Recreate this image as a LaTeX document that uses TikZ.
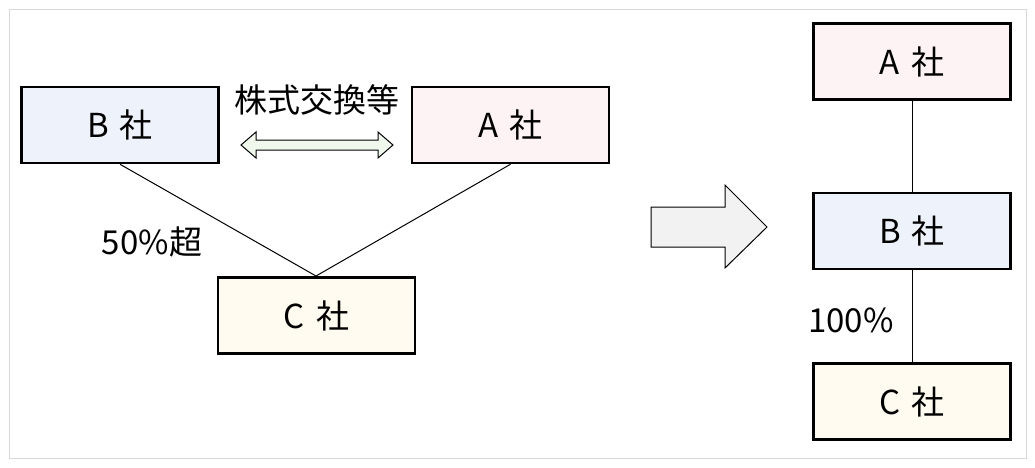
\documentclass[tikz,border=0pt]{standalone}
\usepackage{fontspec}
\setmainfont{Noto Sans CJK JP}
\begin{document}
\begin{tikzpicture}[x=1pt,y=-1pt,
 box/.style={draw,line width=2.5pt,minimum width=197pt,minimum height=76pt,font=\fontsize{33}{37}\selectfont},
 lbl/.style={font=\fontsize{33}{37}\selectfont}]
\useasboundingbox (0,0) rectangle (1035,467);
\draw[black!15,line width=1pt] (9,9) rectangle (1026,458);
\definecolor{cb}{HTML}{EEF3FB}\definecolor{ca}{HTML}{FDF2F4}\definecolor{cc}{HTML}{FFFBF0}
\node[box,fill=cb] (b1) at (120,125) {B\,\,社};
\node[box,fill=ca] (a1) at (510.5,125) {A\,\,社};
\node[box,fill=cc] (c1) at (316.5,315.5) {C\,\,社};
\node[box,fill=ca] (a2) at (912,61.5) {A\,\,社};
\node[box,fill=cb] (b2) at (912,231) {B\,\,社};
\node[box,fill=cc] (c2) at (912,401.5) {C\,\,社};
\coordinate (m) at (316,276);
\draw[line width=1pt] (b1.south) -- (m) -- (a1.south);
\draw[line width=1pt] (a2) -- (b2) -- (c2);
\node[lbl] (t1) at (317,100) {株式交換等};
\node[lbl] (t2) at (152,242) {50\%超};
\node[lbl] (t3) at (851,320) {100\%};
\draw[line width=1pt,fill={rgb,255:red,240;green,247;blue,236}] (241,145) -- (256,132) -- (256,140) -- (378,140) -- (378,132) -- (393,145) -- (378,158) -- (378,150) -- (256,150) -- (256,158) -- cycle;
\draw[line width=1pt,fill=black!5] (651,207) -- (725,207) -- (725,185) -- (767,227) -- (725,268) -- (725,247) -- (651,247) -- cycle;
\end{tikzpicture}
\end{document}
